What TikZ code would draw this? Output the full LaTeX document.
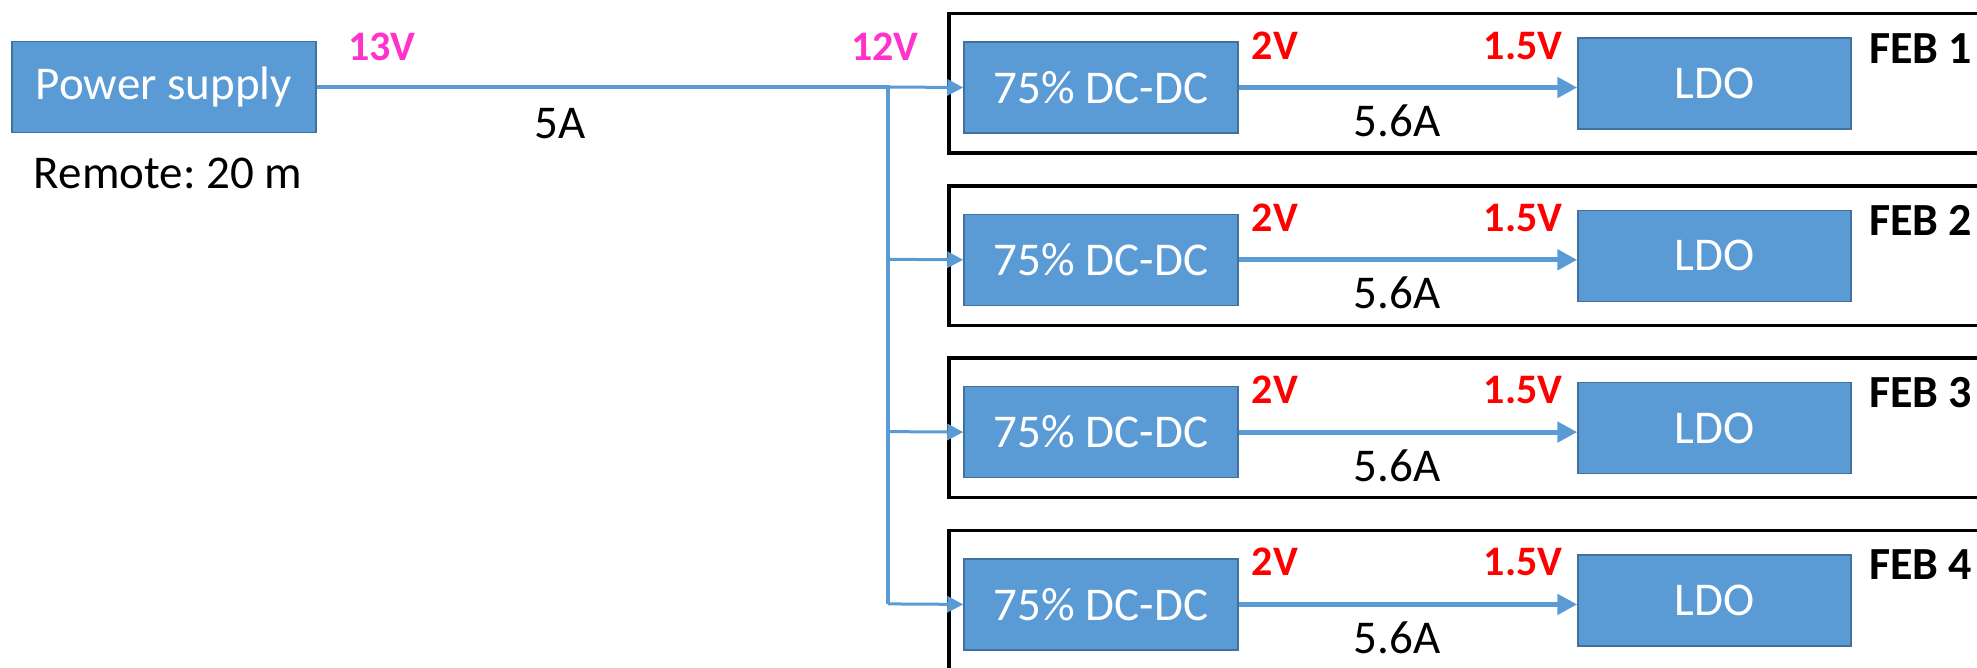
\documentclass[tikz,border=0pt]{standalone}
\usepackage{fontspec}
\setmainfont{Carlito}
\usetikzlibrary{arrows.meta,positioning}
\frenchspacing

\definecolor{boxblue}{HTML}{5B9BD5}
\definecolor{boxedge}{HTML}{41719C}
\definecolor{voltmag}{HTML}{FF33CC}

\tikzset{
  block/.style={draw=boxedge, fill=boxblue, line width=1.5pt, text=white,
    font=\fontsize{47}{56}\selectfont, minimum height=91pt, inner sep=0pt},
  febbox/.style={draw=black, line width=3.5pt, minimum height=139.5pt,
    minimum width=1100pt, anchor=north west, inner sep=0pt},
  wire/.style={draw=boxblue, line width=4.5pt},
  feed/.style={draw=boxblue, line width=3pt, -{Triangle[length=16pt,width=16pt]}},
  conv/.style={draw=boxblue, line width=5pt, -{Triangle[length=20pt,width=20pt]}},
  amp/.style={font=\fontsize{47}{56}\selectfont, anchor=base, inner sep=0pt},
  volt/.style={font=\fontsize{42}{50}\selectfont\bfseries, anchor=base, inner sep=0pt},
  feblabel/.style={font=\fontsize{46}{55}\selectfont\bfseries, anchor=base west, inner sep=0pt},
}

\begin{document}
\begin{tikzpicture}[x=1pt, y=-1pt]
\clip (0,0) rectangle (1977,667);
% remote supply
\node[block, minimum width=304pt] (ps) at (164,87) {Power supply};
\node[amp] (remote) at (168,188) {Remote: 20 m};
\node[volt, text=voltmag] (v13) at (382,60) {13V};
\node[amp] (i5) at (560,138) {5A};
\node[volt, text=voltmag] (v12) at (885,60) {12V};
% front-end boards
\foreach \i in {1,...,4}{
  \pgfmathsetmacro{\y}{87+(\i-1)*172.3}
  \coordinate (tap\i) at (888,\y);
  \node[febbox] (feb\i) at (947,{\y-75.25}) {};
  \node[block, minimum width=274pt] (dcdc\i) at (1101,{\y+0.5}) {75\% DC-DC};
  \node[block, minimum width=273pt] (ldo\i) at (1714.5,{\y-3.5}) {LDO};
  \node[volt, text=red] (v2\i) at (1275,{\y-28}) {2V};
  \node[volt, text=red] (v15\i) at (1523,{\y-28}) {1.5V};
  \node[amp] (i56\i) at (1397,{\y+49.5}) {5.6A};
  \node[feblabel] (name\i) at (1869,{\y-24}) {FEB \i};
  \draw[feed] (tap\i) -- (dcdc\i.west);
  \draw[conv] (dcdc\i.east) -- (dcdc\i.east -| ldo\i.west);
}
\draw[wire] (ps.east) -- (tap1) -- (tap4);
\end{tikzpicture}
\end{document}
